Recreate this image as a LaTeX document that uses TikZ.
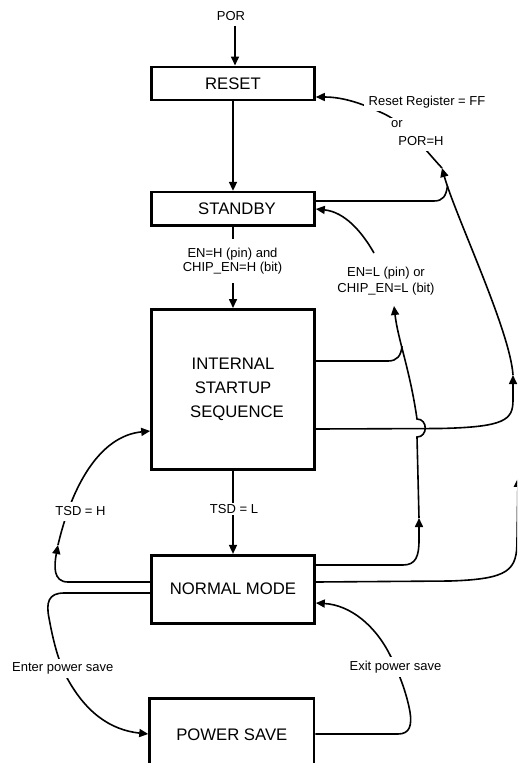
\documentclass[tikz,border=0pt]{standalone}
\usepackage{fontspec}
\setmainfont{Liberation Sans}
\usetikzlibrary{arrows.meta}
\begin{document}
\begin{tikzpicture}[x=1pt,y=-1pt,
 box/.style={draw, line width=2.6pt, minimum width=163pt, inner sep=0pt, align=center, font=\fontsize{16.7}{24}\selectfont},
 lbl/.style={font=\fontsize{13}{14.3}\selectfont, inner sep=0pt},
 wlbl/.style={lbl, fill=white},
 conn/.style={line width=1.6pt},
 arr/.style={conn, -{Triangle[length=9pt,width=8pt]}},
]
\useasboundingbox (0,0) rectangle (517,763);
\clip (0,0) rectangle (517,763);

% state boxes
\node[box, minimum height=33pt] (reset) at (233,83.3) {RESET};
\node[box, minimum height=33.3pt] (standby) at (233,208.8) {\hspace*{8pt}STANDBY};
\node[box, minimum height=160pt] (internal) at (233,389.3) {INTERNAL\\STARTUP\\\hspace*{8pt}SEQUENCE};
\node[box, minimum height=68pt] (normal) at (233,589.2) {NORMAL MODE};
\node[box, minimum height=72pt, minimum width=164.5pt] (psave) at (231.8,734.7) {POWER SAVE};

% labels that split a connector
\node[lbl] (por) at (231,16) {POR};
\node[lbl, align=center, inner xsep=2pt, inner ysep=8.7pt] (enh) at (232.5,261.15) {EN=H (pin) and\\CHIP\_EN=H (bit)};
\node[lbl, anchor=base, inner ysep=1.4pt] (tsdl) at (234,513.65) {TSD = L};
\node[lbl, align=center, font=\fontsize{13}{16}\selectfont] (enl) at (386,281.25) {EN=L (pin) or\\CHIP\_EN=L (bit)};

% main vertical flow
\draw[arr] ([xshift=4pt,yshift=-5pt]por.south) -- ([xshift=4pt]por.south |- reset.north);
\draw[arr] (reset.south) -- (reset.south |- standby.north);
\draw[conn] (standby.south) -- (standby.south |- enh.north);
\draw[arr] (standby.south |- enh.south) -- (internal.north);
\draw[conn] (internal.south) -- (internal.south |- tsdl.north);
\draw[arr] (internal.south |- tsdl.south) -- (normal.north);

% TSD = H
\draw[arr] (normal.west |- 0,582) -- (68,582) .. controls (53,582) and (54,566) .. (58,545);
\draw[arr] (58,545) .. controls (72,485) and (100,436) .. (internal.west |- 0,431);

% Enter power save
\draw[arr] (normal.west |- 0,593) -- (64,593) .. controls (48,593) and (46,603) .. (49,618) .. controls (53,640) and (58,660) .. (66,676) .. controls (85,712) and (110,730) .. (psave.west |- 0,734);

% Exit power save
\draw[arr] (psave.east |- 0,734) -- (398,734) .. controls (410,734) and (412,725) .. (410,712) .. controls (407,695) and (400,675) .. (390,655) .. controls (375,625) and (350,605) .. (normal.east |- 0,603);

% EN=L path to STANDBY
\draw[arr] (normal.east |- 0,565) -- (403,565) .. controls (416,565) and (419,556) .. (419,540) -- (419,518);
\draw[arr] (419,518) -- (417,437) .. controls (428,437) and (428,419) .. (417,419) .. controls (410,370) and (398,340) .. (394,306);
\draw[conn] (internal.east |- 0,361) -- (388,361) .. controls (397,361) and (401,356) .. (402,346);
\draw[arr] (374,253) .. controls (362,232) and (345,212) .. (standby.east |- 0,209);

% Reset register / POR path to RESET
\draw[arr] (internal.east |- 0,429) -- (440,428.5) .. controls (505,427) and (513,420) .. (513,400) -- (513,375);
\draw[arr] (513,375) .. controls (510,330) and (455,215) .. (442,168);
\draw[conn] (standby.east |- 0,201) -- (434,201) .. controls (443,201) and (446,196) .. (447.5,186);
\draw[arr] (normal.east |- 0,582) -- (450,581) .. controls (510,579) and (517,570) .. (517,540) -- (518,478);
\draw[arr] (442,168) .. controls (425,150) and (405,122) .. (380,112) .. controls (365,105) and (345,97) .. (reset.east |- 0,97);

% labels lying on connectors
\node[wlbl, anchor=base, inner xsep=5pt, inner ysep=2.5pt] (rr) at (427,105.7) {Reset Register = FF};
\node[wlbl, anchor=base, inner xsep=8pt, inner ysep=3pt] (lor) at (397,127.5) {or};
\node[wlbl, anchor=base, inner xsep=3pt, inner ysep=5.5pt] (porh) at (421,145.3) {POR=H};
\node[wlbl, anchor=base, inner xsep=2pt, inner ysep=5pt] (tsdh) at (80.5,515.65) {TSD = H};
\node[wlbl, anchor=base, inner xsep=2pt, inner ysep=3.5pt] (enter) at (62.8,671.35) {Enter power save};
\node[wlbl, anchor=base, inner xsep=2pt, inner ysep=4pt] (exitps) at (395.5,670.65) {Exit power save};
\end{tikzpicture}
\end{document}
